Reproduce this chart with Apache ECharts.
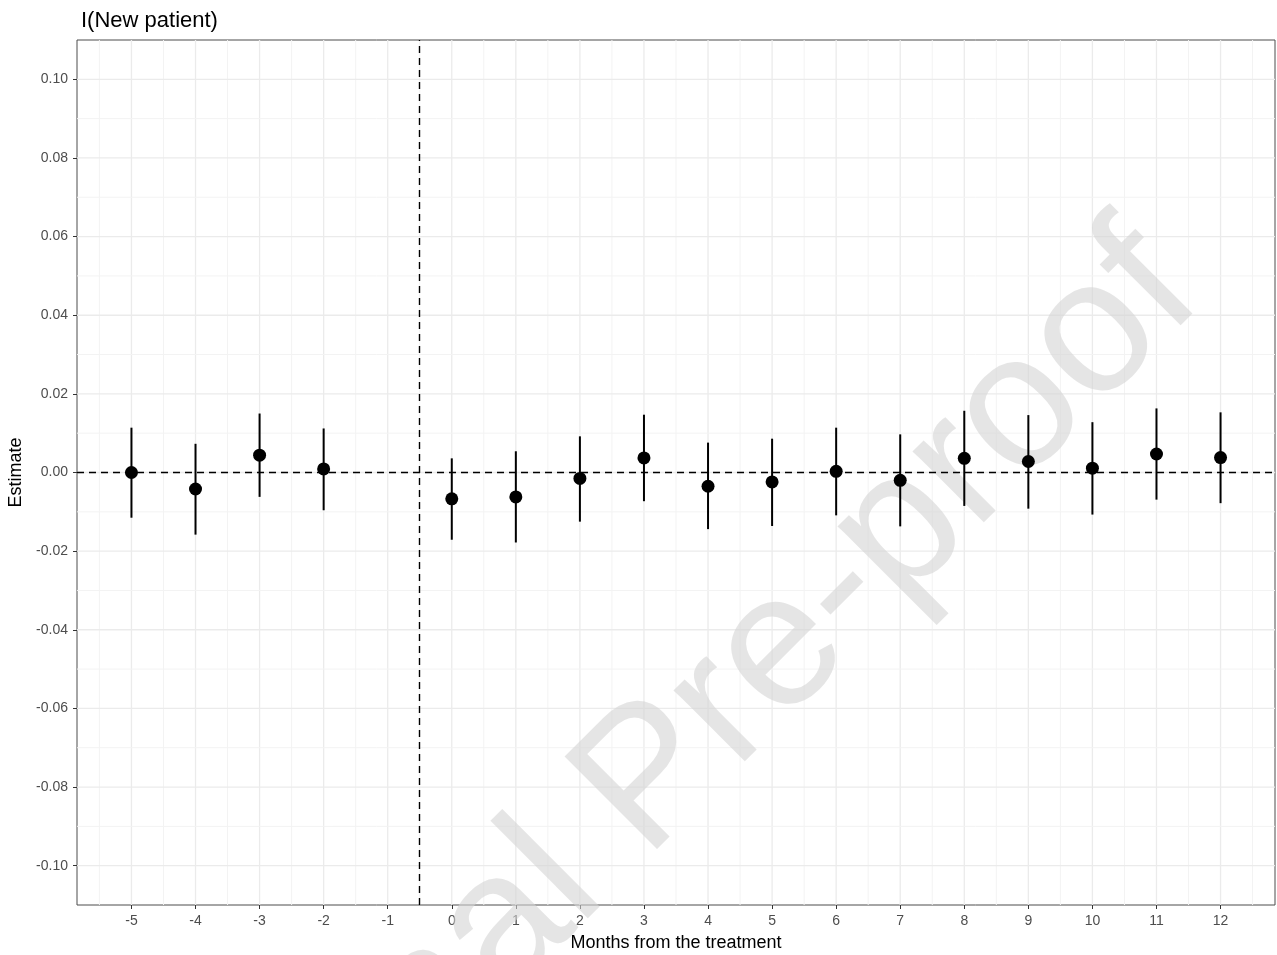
<!DOCTYPE html>
<html>
<head>
<meta charset="utf-8">
<script src="https://cdn.jsdelivr.net/npm/echarts@6/dist/echarts.min.js"></script>
<style>
html,body{margin:0;padding:0;background:#fff;}
#chart{width:1277px;height:955px;}
</style>
</head>
<body>
<div id="chart"></div>
<script>
// ---- data ----
const months   = [-5, -4, -3, -2, 0, 1, 2, 3, 4, 5, 6, 7, 8, 9, 10, 11, 12];
const estimate = [0.0000, -0.0042, 0.0044, 0.0009, -0.0067, -0.0062, -0.0015, 0.0037, -0.0035, -0.0024, 0.0003, -0.0020, 0.0036, 0.0028, 0.0011, 0.0047, 0.0038];
const ciLow    = [-0.0115, -0.0158, -0.0062, -0.0096, -0.0171, -0.0178, -0.0125, -0.0073, -0.0144, -0.0136, -0.0109, -0.0137, -0.0085, -0.0092, -0.0107, -0.0069, -0.0078];
const ciHigh   = [0.0114, 0.0073, 0.0150, 0.0112, 0.0036, 0.0054, 0.0092, 0.0147, 0.0076, 0.0086, 0.0114, 0.0097, 0.0157, 0.0146, 0.0128, 0.0163, 0.0153];
const xTicks   = [-5, -4, -3, -2, -1, 0, 1, 2, 3, 4, 5, 6, 7, 8, 9, 10, 11, 12];
const yTicks   = ['-0.10', '-0.08', '-0.06', '-0.04', '-0.02', '0.00', '0.02', '0.04', '0.06', '0.08', '0.10'];
const treatmentLine = -0.5;
const titleText = 'I(New patient)';
const xName = 'Months from the treatment';
const yName = 'Estimate';
const watermark = 'Journal Pre-proof';

// ---- derived ----
const yTickVals = yTicks.map(parseFloat);
const xMin = -5.85, xMax = 12.85, yMin = -0.11, yMax = 0.11;
const gridData = [];
xTicks.forEach(v => gridData.push([0, v, 1]));
for (let i = 0; i <= xTicks.length; i++) gridData.push([0, xTicks[0] - 0.5 + i, 0]);
yTickVals.forEach(v => gridData.push([1, v, 1]));
for (let i = 0; i <= yTickVals.length; i++) {
  const v = +(yTickVals[0] - 0.01 + i * 0.02).toFixed(3);
  if (v > yMin && v < yMax) gridData.push([1, v, 0]);
}
const pts = months.map((m, i) => [m, estimate[i]]);
const bars = months.map((m, i) => [m, ciLow[i], ciHigh[i]]);

const chart = echarts.init(document.getElementById('chart'), null, {renderer: 'canvas'});
const font = '"Liberation Sans", Arial, Helvetica, sans-serif';
chart.setOption({
  animation: false,
  backgroundColor: '#ffffff',
  title: {
    text: titleText, left: 76, top: 5,
    textStyle: {fontFamily: font, fontSize: 22, fontWeight: 'normal', color: '#000'}
  },
  grid: {left: 77, right: 2, top: 40, bottom: 50, outerBoundsMode: 'none', containLabel: false,
    show: true, borderColor: '#4d4d4d', borderWidth: 1, backgroundColor: '#fff'},
  xAxis: {
    type: 'value', min: xMin, max: xMax,
    name: xName, nameLocation: 'middle', nameGap: 29,
    nameTextStyle: {fontFamily: font, fontSize: 18, color: '#000'},
    axisLine: {show: false, onZero: false},
    axisTick: {show: true, length: 4, customValues: xTicks, lineStyle: {color: '#333', width: 1}},
    axisLabel: {customValues: xTicks, color: '#4d4d4d', fontFamily: font, fontSize: 14, margin: 9, formatter: v => String(v)},
    splitLine: {show: false}
  },
  yAxis: {
    type: 'value', min: yMin, max: yMax,
    name: yName, nameLocation: 'middle', nameGap: 51, nameRotate: 90,
    nameTextStyle: {fontFamily: font, fontSize: 18, color: '#000'},
    axisLine: {show: false, onZero: false},
    axisTick: {show: true, length: 4, customValues: yTickVals, lineStyle: {color: '#333', width: 1}},
    axisLabel: {customValues: yTickVals, color: '#4d4d4d', fontFamily: font, fontSize: 14, margin: 9, formatter: v => v.toFixed(2)},
    splitLine: {show: false}
  },
  graphic: [{
    type: 'text', x: 650, y: 782, rotation: Math.PI / 4, z: 5, silent: true,
    style: {text: watermark, font: '190px "Liberation Sans", Arial, sans-serif', fill: 'rgba(212,212,212,0.6)', textAlign: 'center', verticalAlign: 'middle'}
  }],
  series: [
    {
      type: 'custom', z: 1, silent: true, clip: true,
      data: gridData,
      renderItem: (params, api) => {
        const dir = api.value(0), v = api.value(1), major = api.value(2);
        let p1, p2;
        if (dir === 0) { p1 = api.coord([v, yMin]); p2 = api.coord([v, yMax]); }
        else { p1 = api.coord([xMin, v]); p2 = api.coord([xMax, v]); }
        return {type: 'line', shape: {x1: p1[0], y1: p1[1], x2: p2[0], y2: p2[1]},
          style: {stroke: major ? '#ebebeb' : '#f3f3f3', lineWidth: major ? 1.3 : 1}};
      }
    },
    {
      type: 'custom', z: 10, silent: true,
      data: bars,
      renderItem: (params, api) => {
        const lo = api.coord([api.value(0), api.value(1)]);
        const hi = api.coord([api.value(0), api.value(2)]);
        return {type: 'line', shape: {x1: lo[0], y1: lo[1], x2: hi[0], y2: hi[1]}, style: {stroke: '#000', lineWidth: 2}};
      }
    },
    {
      type: 'scatter', z: 11, data: pts, symbolSize: 13,
      itemStyle: {color: '#000', opacity: 1},
      markLine: {
        silent: true, symbol: 'none', label: {show: false},
        lineStyle: {color: '#000', width: 1.4, type: [7, 5]},
        data: [{yAxis: 0}, {xAxis: treatmentLine}]
      }
    }
  ]
});
</script>
</body>
</html>
